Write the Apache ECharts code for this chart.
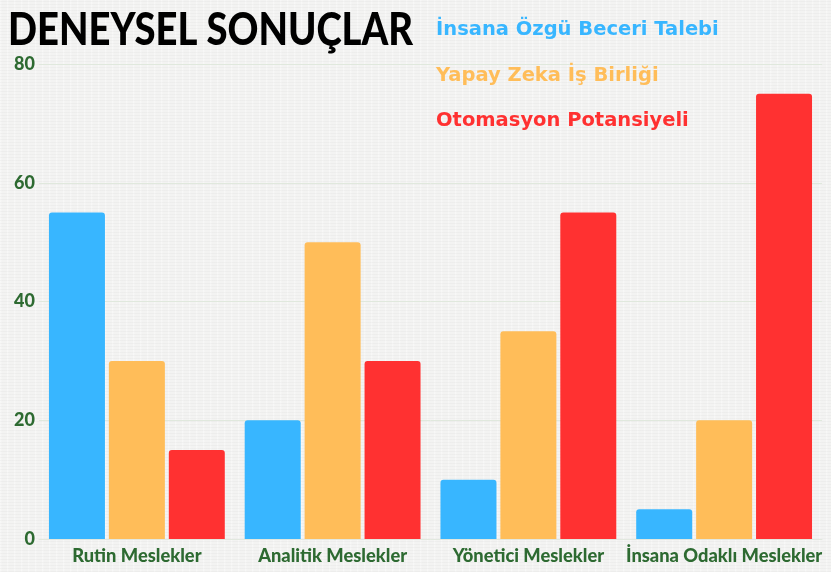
<!DOCTYPE html>
<html>
<head>
    <title>Deneysel Sonuclar</title>
    <meta http-equiv="content-type" content="text/html; charset=utf-8">
    <script src="https://cdn.jsdelivr.net/npm/echarts@6/dist/echarts.min.js"></script>
    <style type="text/css">
    html, body {
        margin: 0;
        padding: 0;
        width: 100%;
        height: 100%;
    }
    body {
        background-color: #f3f3f2;
        background-image:
            repeating-linear-gradient(0deg, rgba(0,0,0,0.025) 0px, rgba(0,0,0,0.025) 1px, transparent 1px, transparent 3px),
            repeating-linear-gradient(90deg, rgba(255,255,255,0.5) 0px, transparent 2px, transparent 7px);
    }
    #main {
        position: absolute;
        width: 831px;
        height: 572px;
    }
    </style>
</head>
<body>
    <div id="main"></div>
    <script type="text/javascript">
    var categories = ['Rutin Meslekler', 'Analitik Meslekler', 'Yönetici Meslekler', 'İnsana Odaklı Meslekler'];
    var seriesNames = ['İnsana Özgü Beceri Talebi', 'Yapay Zeka İş Birliği', 'Otomasyon Potansiyeli'];
    var humanSkill = [55, 20, 10, 5];
    var aiCollab = [30, 50, 35, 20];
    var automation = [15, 30, 55, 75];
    var yTicks = [0, 20, 40, 60, 80];

    var colors = ['#38b6ff', '#ffbd59', '#ff3131'];
    var green = '#2d6a31';
    var values = [humanSkill, aiCollab, automation];

    var myChart = echarts.init(document.getElementById('main'));

    var series = seriesNames.map(function (name, i) {
        return {
            name: name,
            type: 'bar',
            data: values[i],
            barWidth: 56,
            barGap: '7%',
            itemStyle: {
                color: colors[i],
                borderRadius: [3, 3, 0, 0]
            }
        };
    });

    myChart.setOption({
        backgroundColor: 'transparent',
        // title squeezed sideways to get close to the narrow display face
        graphic: [{
            type: 'text',
            left: 8,
            top: 7,
            scaleX: 0.83,
            style: {
                text: 'DENEYSEL SONUÇLAR',
                fontFamily: 'Lato',
                fontWeight: 900,
                fontSize: 46,
                fill: '#000'
            }
        }],
        legend: {
            orient: 'vertical',
            left: 431,
            top: 15,
            itemGap: 25.5,
            icon: 'none',
            itemWidth: 0,
            itemHeight: 0,
            selectedMode: false,
            data: seriesNames.map(function (n, i) {
                return { name: n, textStyle: { color: colors[i] } };
            }),
            textStyle: {
                fontFamily: 'DejaVu Sans',
                fontWeight: 'bold',
                fontSize: 19.5,
                padding: [0, 0, 0, -5]
            }
        },
        grid: {
            left: 39,
            right: 9,
            top: 64,
            bottom: 33
        },
        xAxis: {
            type: 'category',
            data: categories,
            axisLine: { show: true, lineStyle: { color: '#e2e8df' } },
            axisTick: { show: false },
            axisLabel: {
                interval: 0,
                color: green,
                fontFamily: 'Lato',
                fontWeight: 900,
                fontSize: 18.3,
                margin: 8
            }
        },
        yAxis: {
            type: 'value',
            min: yTicks[0],
            max: yTicks[yTicks.length - 1],
            interval: 20,
            axisLine: { show: false },
            axisTick: { show: false },
            splitLine: { lineStyle: { color: '#e0e8dd', width: 1 } },
            axisLabel: {
                color: green,
                fontFamily: 'Lato',
                fontWeight: 900,
                fontSize: 18,
                margin: 4,
                align: 'right'
            }
        },
        series: series
    });
    </script>
</body>
</html>
